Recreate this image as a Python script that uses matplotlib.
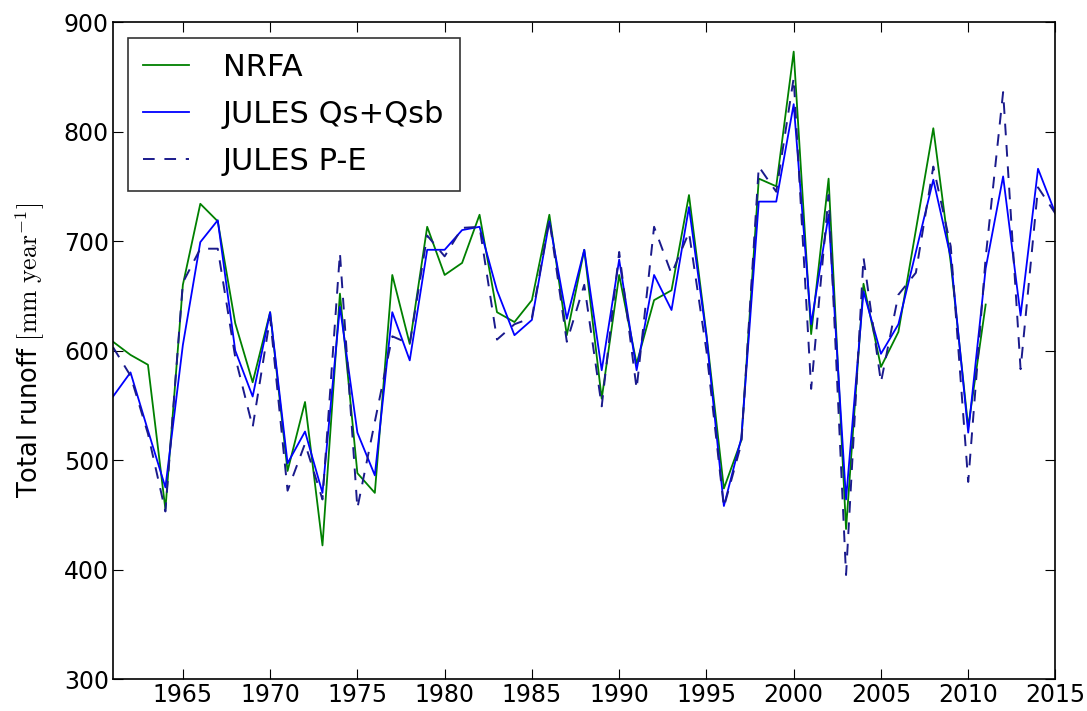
import numpy as np
import matplotlib
matplotlib.use('Agg')
import matplotlib.pyplot as plt

# Годы и данные стока
years = np.arange(1961, 2016)
years_nrfa = np.arange(1961, 2012)

nrfa = [608, 596, 587, 455, 660, 734, 718, 625, 571, 635,
        490, 553, 422, 652, 488, 470, 669, 606, 713, 669,
        680, 724, 635, 626, 646, 724, 614, 692, 556, 669,
        588, 646, 655, 742, 615, 474, 518, 757, 750, 873,
        615, 757, 437, 661, 585, 617, 710, 803, 680, 530,
        642]

jules_qs_qsb = [558, 580, 527, 475, 605, 699, 719, 600, 558, 635,
                497, 526, 470, 640, 525, 486, 635, 591, 692, 692,
                710, 713, 655, 614, 628, 718, 629, 692, 582, 683,
                582, 669, 637, 731, 613, 458, 520, 736, 736, 825,
                624, 724, 464, 654, 597, 624, 690, 756, 685, 525,
                675, 759, 632, 766, 725]

jules_pe = [603, 577, 524, 453, 662, 693, 693, 594, 530, 630,
            472, 515, 464, 689, 456, 535, 613, 606, 705, 686,
            712, 713, 610, 624, 630, 720, 608, 660, 549, 690,
            565, 713, 670, 708, 600, 457, 515, 768, 745, 849,
            565, 742, 395, 685, 571, 651, 671, 768, 695, 480,
            685, 836, 583, 749, 725]

plt.rcParams['mathtext.fontset'] = 'cm'

fig = plt.figure(figsize=(10.87, 7.11), dpi=100)
ax = fig.add_axes([0.104, 0.045, 0.867, 0.924])

ax.plot(years_nrfa, nrfa, color='green', lw=1.3, label='NRFA')
ax.plot(years, jules_qs_qsb, color='blue', lw=1.3, label='JULES Qs+Qsb')
ax.plot(years, jules_pe, color='#1a1a8c', lw=1.4, ls=(0, (6, 5)),
        label='JULES P-E')

ax.set_xlim(1961, 2015)
ax.set_ylim(300, 900)
ax.set_xticks(np.arange(1965, 2016, 5))
ax.set_yticks(np.arange(300, 901, 100))
ax.tick_params(direction='in', top=True, right=True, length=7,
               labelsize=17, pad=3)
ax.set_ylabel(r'Total runoff $[\mathrm{mm\ year}^{-1}]$', fontsize=18.5,
              labelpad=12)

for s in ax.spines.values():
    s.set_linewidth(1.2)

leg = ax.legend(loc='upper left', fontsize=22, fancybox=False,
                handlelength=1.5, handletextpad=1.1, borderpad=0.5,
                labelspacing=0.58, borderaxespad=0,
                bbox_to_anchor=(0.016, 0.976))
leg.get_frame().set_edgecolor('black')
leg.get_frame().set_linewidth(1.2)

plt.savefig('out.png', dpi=100)
